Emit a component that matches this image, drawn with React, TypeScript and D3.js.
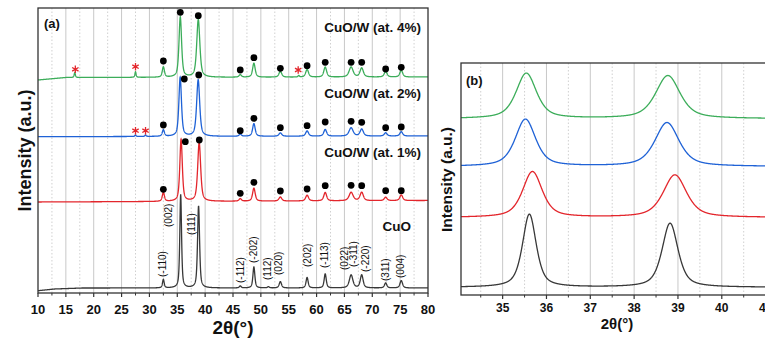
import * as d3 from "d3";

const W = 765;
const H = 339;
const font = "Arial, 'Liberation Sans', sans-serif";

// plot frames
const A = { left: 38, right: 428, top: 8, bottom: 293 };
const B = { left: 461, right: 770, top: 63, bottom: 295 };

const colors = ["#383838", "#e3262c", "#1f62d6", "#3cad5a"];

// ---- panel (a) data, 2θ in degrees, intensity in a.u. ----
// baselines as [2θ, level]
const cuoBase = [[10, 2.3], [13, 4], [18, 5], [80, 5]];
const w1Base = [[10, 91], [80, 92.5]];
const w2Base = [[10, 156.3], [80, 157]];
const w4Base = [[10, 213], [15, 215.5], [80, 216]];

const cuoPos = [32.5, 35.61, 38.82, 46.3, 48.75, 51.35, 53.5, 58.3, 61.55, 66.2, 68.1, 72.4, 75.2];
const cuoH = [8.5, 93, 82, 2, 21, 1.2, 6.3, 10.5, 14, 13, 13, 5, 7.3];
const cuoW = [0.35, 0.37, 0.43, 0.4, 0.42, 0.4, 0.5, 0.45, 0.45, 0.75, 0.6, 0.5, 0.55];

const w1Pos = [32.5, 35.68, 38.93, 46.3, 48.75, 53.5, 58.3, 61.55, 66.2, 68.1, 72.4, 75.2];
const w1H = [9, 62, 58.7, 2.5, 13, 4, 5.7, 8.4, 8.4, 8.4, 3.4, 5.7];
const w1W = [0.45, 0.53, 0.63, 0.5, 0.55, 0.6, 0.6, 0.6, 0.85, 0.7, 0.6, 0.6];

const w2Pos = [27.5, 29.3, 32.5, 35.52, 38.75, 46.3, 48.75, 53.5, 58.3, 61.55, 66.2, 68.1, 72.4, 75.2];
const w2H = [1.5, 1.5, 6.5, 59, 56.5, 2, 12.7, 3.3, 5.3, 6.7, 8.3, 7, 3.3, 4.3];
const w2W = [0.25, 0.25, 0.45, 0.55, 0.65, 0.5, 0.55, 0.6, 0.6, 0.6, 0.85, 0.7, 0.6, 0.6];

const w4Pos = [16.6, 27.5, 32.5, 35.54, 38.77, 46.3, 48.75, 53.5, 56.8, 58.3, 61.55, 66.2, 68.1, 72.4, 75.2];
const w4H = [5, 5.5, 10.3, 60.3, 57.7, 2.5, 14, 5.7, 1.5, 7.7, 10, 10, 9, 5.7, 6.7];
const w4W = [0.25, 0.25, 0.45, 0.55, 0.66, 0.5, 0.55, 0.6, 0.3, 0.6, 0.6, 0.85, 0.7, 0.6, 0.6];

// CuO phase markers (●) and impurity markers (*)
const w1DotX = [32.5, 36.44, 38.95, 46.3, 48.75, 53.5, 58.3, 61.55, 66.2, 68.1, 72.4, 75.2];
const w1DotY = [103.7, 151.3, 153, 99.7, 110.7, 102, 104, 107.3, 107.7, 107.3, 102.3, 102.3];
const w2DotX = [32.5, 36.26, 38.85, 46.3, 48.75, 53.5, 58.3, 61.55, 66.2, 68.1, 72.4, 75.2];
const w2DotY = [168, 214, 218, 162.3, 174.7, 165.3, 167.3, 171, 171.7, 170.7, 165.3, 166];
const w4DotX = [32.5, 35.54, 38.77, 46.3, 48.75, 53.5, 58.3, 61.55, 66.2, 68.1, 72.4, 75.2];
const w4DotY = [232, 280.7, 277.3, 223, 235.3, 224.7, 227.3, 230.7, 230.7, 230.7, 224, 225.7];
const w2StarX = [27.5, 29.3];
const w2StarY = [162.3, 162.3];
const w4StarX = [16.7, 27.5, 56.7];
const w4StarY = [223.7, 226.3, 223];

// CuO reflections
const hklText = ["(-110)", "(002)", "(111)", "(-112)", "(-202)", "(112)", "(020)", "(202)", "(-113)", "(022)", "(-311)", "(-220)", "(311)", "(004)"];
const hklAngle = [32.4, 33.5, 37.6, 46.3, 48.6, 51.2, 53.2, 58.4, 61.4, 65.1, 66.6, 68.7, 72.3, 75.0];
const hklLevel = [16, 66, 58, 10, 30, 13, 18, 26, 25, 23, 26, 21, 12, 15];

// ---- panel (b) data: zoom on (002)/(111) ----
const zBase = [7.7, 77.5, 128.5, 176.3];
const zPos = [[35.61, 38.82], [35.68, 38.93], [35.52, 38.75], [35.54, 38.77]];
const zH = [[73, 64], [45.8, 42.5], [47.2, 43.8], [45.4, 43]];
const zW = [[0.37, 0.43], [0.53, 0.63], [0.55, 0.65], [0.55, 0.66]];

const aTicks = d3.range(10, 81, 5);
const aMinor = d3.range(12.5, 80, 5);
const bTicks = [35, 36, 37, 38, 39, 40, 41];
const bMinor = [34.5, 35.5, 36.5, 37.5, 38.5, 39.5, 40.5];

function pv(x: number, pos: number[], h: number[], w: number[]) {
  let v = 0;
  for (let i = 0; i < pos.length; i++) {
    const t = (x - pos[i]) / (w[i] / 2);
    v += h[i] * (0.6 / (1 + t * t) + 0.4 * Math.exp(-Math.LN2 * t * t));
  }
  return v;
}

const xA = d3.scaleLinear().domain([10, 80]).range([A.left, A.right]);
const yA = d3.scaleLinear().domain([0, 285]).range([A.bottom, A.top]);
const xB = d3.scaleLinear().domain([34.05, 41.1]).range([B.left, B.right]);
const yB = d3.scaleLinear().domain([0, 232]).range([B.bottom, B.top]);

const aSeries = [
  { base: cuoBase, pos: cuoPos, h: cuoH, w: cuoW },
  { base: w1Base, pos: w1Pos, h: w1H, w: w1W },
  { base: w2Base, pos: w2Pos, h: w2H, w: w2W },
  { base: w4Base, pos: w4Pos, h: w4H, w: w4W },
];

const lineA = d3.line<[number, number]>().x((d) => xA(d[0])).y((d) => yA(d[1]));
const lineB = d3.line<[number, number]>().x((d) => xB(d[0])).y((d) => yB(d[1]));

const gridA = d3.range(10, 80.0001, 0.02);
const gridB = d3.range(34.05, 41.1, 0.005);

const pathsA = aSeries.map((s) => {
  const bl = d3.scaleLinear().domain(s.base.map((d) => d[0])).range(s.base.map((d) => d[1]));
  return lineA(gridA.map((x) => [x, bl(x) + pv(x, s.pos, s.h, s.w)] as [number, number])) || "";
});
const pathsB = zBase.map((b, i) =>
  lineB(gridB.map((x) => [x, b + pv(x, zPos[i], zH[i], zW[i])] as [number, number])) || ""
);

const dots = [
  { x: w1DotX, y: w1DotY },
  { x: w2DotX, y: w2DotY },
  { x: w4DotX, y: w4DotY },
];
const stars = [
  { x: w2StarX, y: w2StarY },
  { x: w4StarX, y: w4StarY },
];
const circle = d3.symbol(d3.symbolCircle, 36)() || "";
const aster = d3.symbol(d3.symbolAsterisk, 38)() || "";

export default function App() {
  return (
    <svg width={W} height={H} style={{ position: "absolute", left: 0, top: 0, background: "#fff" }} fontFamily={font}>
      <defs>
        <clipPath id="clipA">
          <rect x={A.left} y={A.top} width={A.right - A.left} height={A.bottom - A.top} />
        </clipPath>
        <clipPath id="clipB">
          <rect x={B.left} y={B.top} width={B.right - B.left} height={B.bottom - B.top} />
        </clipPath>
      </defs>

      {/* panel (a) */}
      {aTicks.slice(1, -1).map((t) => (
        <line key={"ga" + t} x1={xA(t)} x2={xA(t)} y1={A.top} y2={A.bottom} stroke="#c8c8c8" strokeWidth={1} />
      ))}
      {aMinor.map((t) => (
        <line key={"gma" + t} x1={xA(t)} x2={xA(t)} y1={A.top} y2={A.bottom} stroke="#c4c4c4" strokeWidth={0.8} strokeDasharray="1.5,2" />
      ))}
      <g clipPath="url(#clipA)">
        {pathsA.map((d, i) => (
          <path key={"pa" + i} d={d} fill="none" stroke={colors[i]} strokeWidth={1.3} />
        ))}
      </g>
      {dots.map((s, k) =>
        s.x.map((x, i) => (
          <path key={"d" + k + "-" + i} d={circle} transform={`translate(${xA(x)},${yA(s.y[i])})`} fill="#000" />
        ))
      )}
      {stars.map((s, k) =>
        s.x.map((x, i) => (
          <path key={"s" + k + "-" + i} d={aster} transform={`translate(${xA(x)},${yA(s.y[i])})`} fill="none" stroke="#e3262c" strokeWidth={1.3} />
        ))
      )}
      {hklText.map((t, i) => (
        <text key={"h" + i} transform={`translate(${xA(hklAngle[i])},${yA(hklLevel[i])}) rotate(-90)`} fontSize={10} dominantBaseline="central" fill="#111">
          {t}
        </text>
      ))}
      <rect x={A.left} y={A.top} width={A.right - A.left} height={A.bottom - A.top} fill="none" stroke="#333" strokeWidth={1.3} />
      {aTicks.map((t) => (
        <g key={"ta" + t}>
          <line x1={xA(t)} x2={xA(t)} y1={A.bottom} y2={A.bottom + 4} stroke="#333" strokeWidth={1.2} />
          <text x={xA(t)} y={A.bottom + 21} textAnchor="middle" fontSize={13} fontWeight="bold" fill="#111">
            {t}
          </text>
        </g>
      ))}
      {aMinor.map((t) => (
        <line key={"tma" + t} x1={xA(t)} x2={xA(t)} y1={A.bottom} y2={A.bottom + 2.5} stroke="#333" strokeWidth={1} />
      ))}
      <text x={44} y={28} fontSize={13} fontWeight="bold" fill="#111">(a)</text>
      <g fontSize={13.5} fontWeight="bold" fill="#111" textAnchor="end">
        <text x={421} y={31.5}>CuO/W (at. 4%)</text>
        <text x={421} y={98.3}>CuO/W (at. 2%)</text>
        <text x={421} y={157.3}>CuO/W (at. 1%)</text>
        <text x={396.7} y={230.7} textAnchor="middle">CuO</text>
      </g>
      <text transform="translate(25,150.5) rotate(-90)" textAnchor="middle" dominantBaseline="central" fontSize={18} fontWeight="bold" fill="#111">
        Intensity (a.u.)
      </text>
      <text x={(A.left + A.right) / 2} y={334} textAnchor="middle" fontSize={19} fontWeight="bold" fill="#111">
        2θ(°)
      </text>

      {/* panel (b) */}
      {bTicks.map((t) => (
        <line key={"gb" + t} x1={xB(t)} x2={xB(t)} y1={B.top} y2={B.bottom} stroke="#c8c8c8" strokeWidth={1} />
      ))}
      {bMinor.map((t) => (
        <line key={"gmb" + t} x1={xB(t)} x2={xB(t)} y1={B.top} y2={B.bottom} stroke="#c4c4c4" strokeWidth={0.8} strokeDasharray="1.5,2" />
      ))}
      <g clipPath="url(#clipB)">
        {pathsB.map((d, i) => (
          <path key={"pb" + i} d={d} fill="none" stroke={colors[i]} strokeWidth={1.3} />
        ))}
      </g>
      <rect x={B.left} y={B.top} width={B.right - B.left} height={B.bottom - B.top} fill="none" stroke="#333" strokeWidth={1.3} />
      {bTicks.map((t) => (
        <g key={"tb" + t}>
          <line x1={xB(t)} x2={xB(t)} y1={B.bottom} y2={B.bottom + 4} stroke="#333" strokeWidth={1.2} />
          <text x={xB(t)} y={B.bottom + 17} textAnchor="middle" fontSize={12} fontWeight="bold" fill="#111">
            {t}
          </text>
        </g>
      ))}
      {bMinor.map((t) => (
        <line key={"tmb" + t} x1={xB(t)} x2={xB(t)} y1={B.bottom} y2={B.bottom + 2.5} stroke="#333" strokeWidth={1} />
      ))}
      <text x={466} y={85} fontSize={13} fontWeight="bold" fill="#111">(b)</text>
      <text transform="translate(446,179.5) rotate(-90)" textAnchor="middle" dominantBaseline="central" fontSize={15.5} fontWeight="bold" fill="#111">
        Intensity (a.u.)
      </text>
      <text x={617} y={328.5} textAnchor="middle" fontSize={15} fontWeight="bold" fill="#111">
        2θ(°)
      </text>
    </svg>
  );
}
